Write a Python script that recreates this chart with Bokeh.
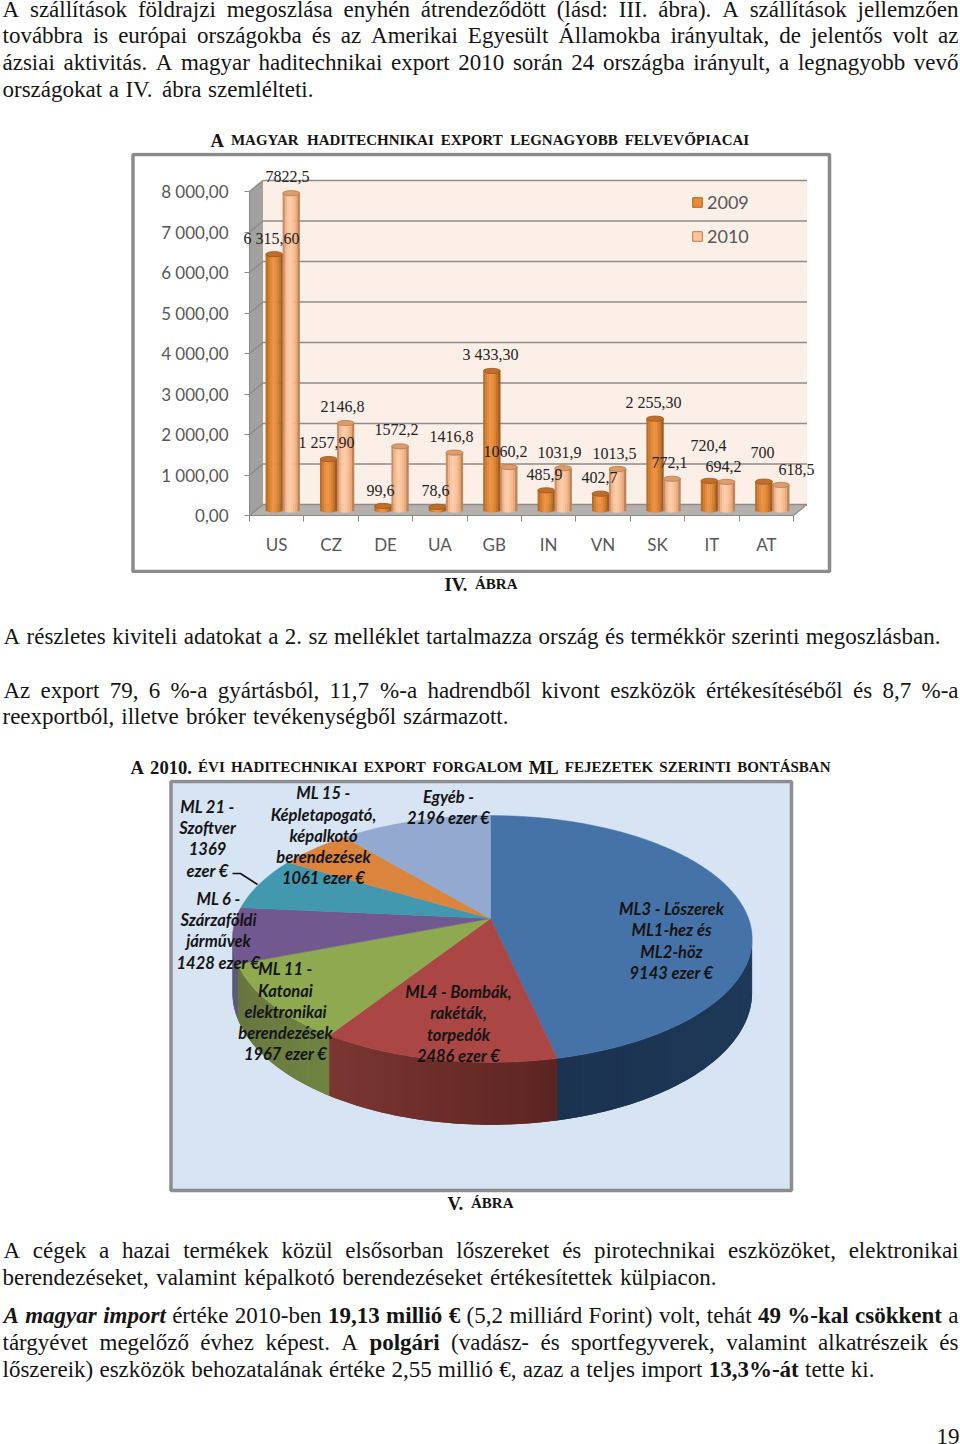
import math, unicodedata
from bokeh.plotting import figure
from bokeh.layouts import column
from bokeh.models import (Range1d, FixedTicker, ColumnDataSource, LabelSet,
                          Legend, LegendItem)
from bokeh.core.properties import value
from bokeh.embed import file_html
from bokeh.resources import INLINE

# ---------- data ----------
categories = ["US", "CZ", "DE", "UA", "GB", "IN", "VN", "SK", "IT", "AT"]
values_2009 = [6315.6, 1257.9, 99.6, 78.6, 3433.3, 485.9, 402.7, 2255.3, 720.4, 700]
values_2010 = [7822.5, 2146.8, 1572.2, 1416.8, 1060.2, 1031.9, 1013.5, 772.1, 694.2, 618.5]
labels_2009 = ["6 315,60", "1 257,90", "99,6", "78,6", "3 433,30", "485,9", "402,7", "2 255,30", "720,4", "700"]
labels_2010 = ["7822,5", "2146,8", "1572,2", "1416,8", "1060,2", "1031,9", "1013,5", "772,1", "694,2", "618,5"]
y_ticks = [0, 1000, 2000, 3000, 4000, 5000, 6000, 7000, 8000]
y_tick_labels = ["0,00", "1 000,00", "2 000,00", "3 000,00", "4 000,00", "5 000,00", "6 000,00", "7 000,00", "8 000,00"]

pie_values = [9143, 2486, 1967, 1428, 1369, 1061, 2196]
pie_colors = ["#4573a7", "#aa4643", "#8ea94f", "#71588f", "#4198af", "#db843d", "#93a9cf"]
pie_side_a = ["#1f3a5c", "#5c2522", "#6f8442", "#5c5a78", "#3a7f92", "#b56c30", "#7a8cab"]
pie_side_b = ["#1b3350", "#7c3632", "#66743f", "#5c5a78", "#3a7f92", "#b56c30", "#7a8cab"]
pie_labels = [
    ("Egyéb -", 448, 796), ("2196 ezer €", 448, 817),
    ("ML 15 -", 323, 792), ("Képletapogató,", 323, 814), ("képalkotó", 323, 835),
    ("berendezések", 323, 856), ("1061 ezer €", 323, 877),
    ("ML 21 -", 207, 806), ("Szoftver", 207, 827), ("1369", 207, 848), ("ezer €", 207, 870),
    ("ML 6 -", 218, 898), ("Szárzaföldi", 218, 919), ("járművek", 218, 940), ("1428 ezer €", 218, 962),
    ("ML 11 -", 285, 968), ("Katonai", 285, 990), ("elektronikai", 285, 1011),
    ("berendezések", 285, 1032), ("1967 ezer €", 285, 1053),
    ("ML4 - Bombák,", 458, 991), ("rakéták,", 458, 1012), ("torpedók", 458, 1034), ("2486 ezer €", 458, 1055),
    ("ML3 - Lőszerek", 671, 908), ("ML1-hez és", 671, 929), ("ML2-höz", 671, 951), ("9143 ezer €", 671, 972),
]

N, B, BI = "normal", "bold", "bold italic"
BIG, SMALL, BODY = 18.6, 15.0, 23.0
text_top = [
    (16, 2, 958, [("A szállítások földrajzi megoszlása enyhén átrendeződött (lásd: III. ábra). A szállítások jellemzően", N, BODY)]),
    (42, 2, 958, [("továbbra is európai országokba és az Amerikai Egyesült Államokba irányultak, de jelentős volt az", N, BODY)]),
    (69, 2, 958, [("ázsiai aktivitás. A magyar haditechnikai export 2010 során 24 országba irányult, a legnagyobb vevő", N, BODY)]),
    (96, 2, 313, [("országokat a IV. ábra szemlélteti.", N, BODY)]),
    (147, 210, 750, [("A", B, BIG), ("MAGYAR HADITECHNIKAI EXPORT LEGNAGYOBB FELVEVŐPIACAI", B, SMALL)]),
]
text_mid = [
    (591, 444, 517, [("IV.", B, BIG), ("ÁBRA", B, SMALL)]),
    (643, 3, 940, [("A részletes kiviteli adatokat a 2. sz melléklet tartalmazza ország és termékkör szerinti megoszlásban.", N, BODY)]),
    (697, 3, 958, [("Az export 79, 6 %-a gyártásból, 11,7 %-a hadrendből kivont eszközök értékesítéséből és 8,7 %-a", N, BODY)]),
    (723, 2, 508, [("reexportból, illetve bróker tevékenységből származott.", N, BODY)]),
    (774, 130, 830, [("A 2010.", B, BIG), ("ÉVI HADITECHNIKAI EXPORT FORGALOM", B, SMALL), ("ML", B, BIG),
                     ("FEJEZETEK SZERINTI BONTÁSBAN", B, SMALL)]),
]
text_bot = [
    (1210, 447, 513, [("V.", B, BIG), ("ÁBRA", B, SMALL)]),
    (1257, 3, 958, [("A cégek a hazai termékek közül elsősorban lőszereket és pirotechnikai eszközöket, elektronikai", N, BODY)]),
    (1284, 2, 716, [("berendezéseket, valamint képalkotó berendezéseket értékesítettek külpiacon.", N, BODY)]),
    (1322, 3, 958, [("A magyar import", BI, BODY), ("értéke 2010-ben", N, BODY), ("19,13 millió €", B, BODY),
                    ("(5,2 milliárd Forint) volt, tehát", N, BODY), ("49 %-kal csökkent", B, BODY), ("a", N, BODY)]),
    (1349, 2, 958, [("tárgyévet megelőző évhez képest. A", N, BODY), ("polgári", B, BODY),
                    ("(vadász- és sportfegyverek, valamint alkatrészeik és", N, BODY)]),
    (1376, 2, 874, [("lőszereik) eszközök behozatalának értéke 2,55 millió €, azaz a teljes import", N, BODY),
                    ("13,3%-át", B, BODY), ("tette ki.", N, BODY)]),
    (1443, 936, 958, [("19", N, BODY)]),
]
TEXT_DY = 7.5

# ---------- Times metrics, to justify lines ----------
def tbl(s):
    d = {}
    for item in s.split():
        k, v = item.split(":")
        d[k] = int(v)
    return d
W_N = tbl("a:444 b:500 c:444 d:500 e:444 f:333 g:500 h:500 i:278 j:278 k:500 l:278 m:778 n:500 o:500 p:500 q:500 r:333 s:389 t:278 u:500 v:500 w:722 x:500 y:500 z:444 "
          "A:722 B:667 C:667 D:722 E:611 F:556 G:722 H:722 I:333 J:389 K:722 L:611 M:889 N:722 O:722 P:556 Q:722 R:667 S:556 T:611 U:722 V:722 W:944 X:722 Y:722 Z:611")
W_B = tbl("a:500 b:556 c:444 d:556 e:444 f:333 g:500 h:556 i:278 j:333 k:556 l:278 m:833 n:556 o:500 p:556 q:556 r:444 s:389 t:333 u:556 v:500 w:722 x:500 y:500 z:444 "
          "A:722 B:667 C:722 D:722 E:667 F:611 G:778 H:778 I:389 J:500 K:778 L:667 M:944 N:722 O:778 P:611 Q:778 R:722 S:556 T:667 U:722 V:722 W:1000 X:722 Y:722 Z:667")
W_BI = tbl("a:500 b:500 c:444 d:500 e:444 f:333 g:500 h:556 i:278 j:278 k:500 l:278 m:778 n:556 o:500 p:500 q:500 r:389 s:389 t:278 u:556 v:444 w:667 x:500 y:444 z:389 A:667")
OTHER = {",": 250, ".": 250, ":": 278, "(": 333, ")": 333, "-": 333, "%": 833, "€": 500}

def word_width(word, style, size):
    table = {N: W_N, B: W_B, BI: W_BI}[style]
    total = 0
    for ch in word:
        base = unicodedata.normalize("NFD", ch)[0]
        if ch in OTHER:
            total += OTHER[ch]
        elif base.isdigit():
            total += 500
        else:
            total += table.get(base, 500)
    if style == B and "%" in word:
        total += 167
    return total * size / 1000.0

def text_figure(top, height, lines):
    p = figure(width=960, height=height, x_range=Range1d(0, 960), y_range=Range1d(height, 0),
               x_axis_location=None, y_axis_location=None, toolbar_location=None,
               output_backend="svg", min_border=0, outline_line_color=None, frame_align=False)
    p.grid.visible = False
    groups = {}
    for base, x0, x1, runs in lines:
        words = [(w, st, sz) for txt, st, sz in runs for w in txt.split()]
        widths = [word_width(w, st, sz) for w, st, sz in words]
        gap = (x1 - x0 - sum(widths)) / max(1, len(words) - 1)
        x = x0
        for (w, st, sz), wd in zip(words, widths):
            g = groups.setdefault((st, sz), dict(x=[], y=[], t=[]))
            g["x"].append(x); g["y"].append(base - top - TEXT_DY); g["t"].append(w)
            x += wd + gap
    for (st, sz), g in groups.items():
        p.text(x="x", y="y", text="t", source=ColumnDataSource(g), text_font=value("Liberation Serif"),
               text_font_size=value(f"{sz}px"), text_font_style=st, text_color="#141414",
               text_baseline="alphabetic", text_align="left")
    return p

# ---------- bar chart section ----------
S2_TOP, S2_H = 152, 421
F_L, F_B = 249, 515
PX_PER_CAT = 54.4
PX_PER_Y = (515 - 191) / 8000
DX = 13.5 / PX_PER_CAT
DY = 11 / PX_PER_Y
def px2x(px): return (px - F_L) / PX_PER_CAT
def px2y(py): return (F_B - py) / PX_PER_Y

bar = figure(width=960, height=S2_H, x_range=Range1d(px2x(0), px2x(960)),
             y_range=Range1d(px2y(S2_TOP + S2_H), px2y(S2_TOP)),
             toolbar_location=None, output_backend="svg", min_border=0,
             outline_line_color=None, background_fill_color="white", border_fill_color="white", frame_align=False)
bar.grid.visible = False
bar.quad(left=px2x(132.5), right=px2x(829), top=px2y(154), bottom=px2y(571),
         fill_color="white", line_color="#8b8b8b", line_width=3.5)
n = len(categories)
# walls and floor
bar.patch([DX, n + DX, n + DX, DX], [DY, DY, 8000 + DY, 8000 + DY], fill_color="#fcefe7", line_color=None)
bar.patch([0, DX, DX, 0], [0, DY, 8000 + DY, 8000], fill_color="#a3a1a0", line_color=None)
bar.patch([0, n, n + DX, DX], [0, 0, DY, DY], fill_color="#b3b0ae", line_color=None)
bar.multi_line([[0, DX, n + DX] for v in y_ticks], [[v, v + DY, v + DY] for v in y_ticks],
               line_color="#8e8c8a", line_width=1.6)
bar.line([n, n + DX], [0, DY], line_color="#8e8c8a", line_width=1.2)

shades_09 = ["#b86d28", "#d27c30", "#e48a3b", "#ec9444", "#e88e3f", "#dc8235", "#c6732b", "#a35b1d"]
shades_10 = ["#c99068", "#f2b48c", "#fcc6a0", "#fdcdaa", "#fbc49b", "#f5b98e", "#e8aa7e", "#bf8458"]
BAR_W = 17 / PX_PER_CAT
ARC = 2.6 / PX_PER_Y
BAR_NUDGE = -0.7 / PX_PER_CAT
def cylinders(vals, shift, shades, top_fill, top_line):
    xs, tops, bots, cols = [], [], [], []
    strip = BAR_W / len(shades)
    for i, v in enumerate(vals):
        cx = i + 0.5 + shift + DX / 2 + BAR_NUDGE
        for k, c in enumerate(shades):
            t = (k + 0.5) / len(shades) * 2 - 1
            xs.append(cx - BAR_W / 2 + (k + 0.5) * strip)
            tops.append(v + DY / 2)
            bots.append(DY / 2 - ARC * math.sqrt(1 - t * t))
            cols.append(c)
    bar.vbar(x=xs, top=tops, bottom=bots, width=strip * 1.15, fill_color=cols, line_color=None)
    bar.ellipse(x=[i + 0.5 + shift + DX / 2 + BAR_NUDGE for i in range(len(vals))], y=[v + DY / 2 for v in vals],
                width=BAR_W, height=ARC * 2, fill_color=top_fill, line_color=top_line, line_width=0.8)
cylinders(values_2009, -BAR_W / 2, shades_09, "#c06f2b", "#9c5519")
cylinders(values_2010, BAR_W / 2, shades_10, "#dd9c6c", "#b7794a")

# axes
yax = bar.yaxis[0]
yax.fixed_location = 0
yax.ticker = FixedTicker(ticks=y_ticks)
yax.major_label_overrides = dict(zip(y_ticks, y_tick_labels))
yax.bounds = (0, 8000)
yax.major_label_text_font = "Lato"
yax.major_label_text_font_size = "17px"
yax.major_label_text_color = "#575757"
yax.major_label_standoff = 16
yax.major_tick_out, yax.major_tick_in = 5, 0
yax.minor_tick_line_color = None
yax.axis_line_color = "#8a8a8a"
yax.major_tick_line_color = "#8a8a8a"
xax = bar.xaxis[0]
xax.fixed_location = 0
centers = [i + 0.5 for i in range(n)]
xax.ticker = FixedTicker(ticks=centers, minor_ticks=list(range(n + 1)))
xax.major_label_overrides = dict(zip(centers, categories))
xax.bounds = (0, n)
xax.major_label_text_font = "Lato"
xax.major_label_text_font_size = "17px"
xax.major_label_text_color = "#575757"
xax.major_label_standoff = 12
xax.major_tick_line_color = None
xax.minor_tick_out, xax.minor_tick_in = 6, 0
xax.minor_tick_line_color = "#8a8a8a"
xax.axis_line_color = "#8a8a8a"

# data labels (placed by hand in the source, pixel anchors converted to data)
lab_px_09 = [(271, 238), (326, 442), (380, 490), (435, 490), (490, 354), (544, 474), (599, 477), (653, 402), (708, 445), (762, 452)]
lab_px_10 = [(287, 176), (342, 406), (396, 429), (451, 436), (505, 451), (559, 452), (614, 453), (669, 462), (723, 466), (796, 469)]
lab_src = ColumnDataSource(dict(
    x=[px2x(a) for a, _ in lab_px_09 + lab_px_10],
    y=[px2y(b) for _, b in lab_px_09 + lab_px_10],
    t=labels_2009 + labels_2010))
bar.add_layout(LabelSet(x="x", y="y", text="t", source=lab_src, text_font=value("Liberation Serif"),
                        text_font_size="16px", text_color="#222222", text_align="center", text_baseline="middle"))

# legend
r09 = bar.rect(x=[-100], y=[-100000], width=1, height=1, fill_color="#e58a3c", line_color="#b5651d")
r10 = bar.rect(x=[-100], y=[-100000], width=1, height=1, fill_color="#fcc49a", line_color="#c07a45")
leg = Legend(items=[LegendItem(label="2009", renderers=[r09]), LegendItem(label="2010", renderers=[r10])],
             location=(691, S2_TOP + S2_H - 247), background_fill_alpha=0, border_line_color=None, margin=0, padding=0,
             glyph_width=12, glyph_height=12, label_standoff=4, spacing=12,
             label_text_font="Lato", label_text_font_size="18px", label_text_color="#575757")
bar.add_layout(leg)

# ---------- pie section ----------
S4_TOP, S4_H = 779, 414
pie = figure(width=960, height=S4_H, x_range=Range1d(0, 960), y_range=Range1d(S4_TOP + S4_H, S4_TOP),
             x_axis_location=None, y_axis_location=None, toolbar_location=None, output_backend="svg",
             min_border=0, outline_line_color=None, frame_align=False)
pie.grid.visible = False
pie.quad(left=170.5, right=791, top=781, bottom=1190, fill_color="#d7e4f4", line_color="#8b8d8f", line_width=3.5)

CX, CY, RX_R, RX_L, RY, K, DEPTH = 490, 918, 258, 254.5, 120, 0.166, 52
def rim(deg):
    th = math.radians(deg)
    d = 1 + K * math.cos(th)
    u = math.sin(th)
    return CX + (RX_R if u > 0 else RX_L) * u / d, CY - RY * math.cos(th) / d, DEPTH / d
def mix(a, b, t):
    ca = [int(a[i:i + 2], 16) for i in (1, 3, 5)]
    cb = [int(b[i:i + 2], 16) for i in (1, 3, 5)]
    return "#%02x%02x%02x" % tuple(round(x + (y - x) * t) for x, y in zip(ca, cb))

total = sum(pie_values)
edges = [0.0]
for v in pie_values:
    edges.append(edges[-1] + v / total * 360)
A0 = math.degrees(math.acos(-K))
A1 = 360 - A0
sx, sy, sc = [], [], []
for i in range(len(pie_values)):
    a, b = max(edges[i], A0), min(edges[i + 1], A1)
    if b <= a:
        continue
    steps = max(1, int((b - a) / 1.5))
    for s in range(steps):
        u0 = a + (b - a) * s / steps
        u1 = min(a + (b - a) * (s + 2) / steps, A1)
        us = [u0 + (u1 - u0) * j / 3 for j in range(4)]
        pts = [rim(w) for w in us]
        sx.append([q[0] for q in pts] + [q[0] for q in reversed(pts)])
        sy.append([q[1] for q in pts] + [q[1] + q[2] for q in reversed(pts)])
        sc.append(mix(pie_side_a[i], pie_side_b[i], (s + 0.5) / steps))
pie.patches(sx, sy, fill_color=sc, line_color=None)
tx, ty = [], []
for i in range(len(pie_values)):
    a, b = edges[i], edges[i + 1]
    steps = max(2, int(b - a))
    pts = [rim(a + (b - a) * s / steps) for s in range(steps + 1)]
    tx.append([CX] + [q[0] for q in pts]); ty.append([CY] + [q[1] for q in pts])
pie.patches(tx, ty, fill_color=pie_colors, line_color=pie_colors, line_width=0.5)
pie.line([232, 240, 257], [873, 873, 884], line_color="#111111", line_width=1.6)
pie.text(x=[q[1] for q in pie_labels], y=[q[2] for q in pie_labels], text=[q[0] for q in pie_labels],
         text_font=value("Lato"), text_font_size=value("16.5px"), text_font_style="bold italic",
         text_color="#141414", text_align="center", text_baseline="middle")

page = column(text_figure(0, 152, text_top), bar, text_figure(573, 206, text_mid), pie,
              text_figure(1193, 251, text_bot), spacing=0, margin=(0, 0, 0, 0))
open("out.html", "w").write(file_html(page, INLINE))
